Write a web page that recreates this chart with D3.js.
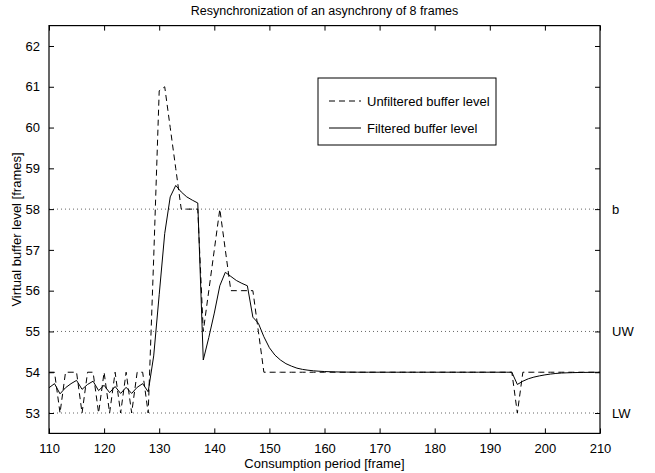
<!DOCTYPE html>
<html><head><meta charset="utf-8">
<script src="https://cdn.jsdelivr.net/npm/d3@7"></script>
<style>body{margin:0;background:#fff}svg text{font-family:"Liberation Sans",Arial,sans-serif}</style>
</head><body><svg id="c" width="655" height="473"></svg>
<script>
const frames = d3.range(110, 211);
const unfilteredTop = [54,54,53,54,54,54,53,54,54,53,54,53,54,53,54,53,54,54,53,56.8,60.9,61,60,59,58,58,58,58,55,56,57,58,57,56,56,56,56,56,55,54];
const filteredTop = [53.62,53.72,53.47,53.62,53.72,53.80,53.58,53.70,53.78,53.55,53.68,53.50,53.65,53.48,53.63,53.48,53.63,53.72,53.52,54.4,55.9,57.4,58.3,58.58,58.42,58.3,58.22,58.15,54.3,54.85,55.45,56.12,56.45,56.35,56.25,56.18,56.12,55.35,55.2,54.87];
const filteredDecay = [54.6,54.42,54.3,54.21,54.15,54.1,54.07,54.05,54.035,54.025,54.017,54.012,54.008,54.005,54.003,54.002,54.001,54,54,54,54,54,54,54,54,54,54,54,54,54,54,54,54,54,54,54,54,54,54,54,54,54,54,54,54];
const unfilteredMid = [54,54,54,54,54,54,54,54,54,54,54,54,54,54,54,54,54,54,54,54,54,54,54,54,54,54,54,54,54,54,54,54,54,54,54,54,54,54,54,54,54,54,54,54,54];
const unfilteredEnd = [53,54,54,54,54,54,54,54,54,54,54,54,54,54,54,54];
const filteredEnd = [53.7,53.78,53.84,53.88,53.91,53.935,53.955,53.97,53.98,53.986,53.99,53.993,53.995,53.997,53.998,53.999];
const unfiltered = unfilteredTop.concat(unfilteredMid, unfilteredEnd);
const filtered = filteredTop.concat(filteredDecay, filteredEnd);
const xTicks = d3.range(110, 211, 10);
const yTicks = d3.range(53, 63, 1);
const thresholds = [{v:58,label:"b"},{v:55,label:"UW"},{v:53,label:"LW"}];
const legendItems = [{label:"Unfiltered buffer level",dash:"6,4"},{label:"Filtered buffer level",dash:null}];

const svg = d3.select("#c");
const L=49, R=600, T=25.6, B=433.4;
const FS=13;
const x = d3.scaleLinear().domain([110,210]).range([L,R]);
const y = d3.scaleLinear().domain([52.5,62.5]).range([B,T]);

svg.selectAll("line.th").data(thresholds).enter().append("line")
  .attr("x1",L).attr("x2",R).attr("y1",d=>y(d.v)).attr("y2",d=>y(d.v))
  .attr("stroke","#666").attr("stroke-width",1).attr("stroke-dasharray","1,3");
svg.selectAll("text.th").data(thresholds).enter().append("text")
  .attr("x",612).attr("y",d=>y(d.v)+4.5).attr("font-size",FS).text(d=>d.label);

const line = d3.line().x((d,i)=>x(frames[i])).y(d=>y(d));
svg.append("path").datum(unfiltered).attr("d",line).attr("fill","none")
  .attr("stroke","#000").attr("stroke-width",1).attr("stroke-dasharray","6,4");
svg.append("path").datum(filtered).attr("d",line).attr("fill","none")
  .attr("stroke","#000").attr("stroke-width",1);

const ax = (g, axis) => { g.call(axis); g.select(".domain").remove(); g.selectAll("text").attr("font-size",FS).attr("font-family","Liberation Sans, Arial, sans-serif").attr("fill","#000"); g.selectAll("line").attr("stroke","#000"); };
svg.append("g").attr("transform",`translate(0,${B})`).call(g=>ax(g,d3.axisBottom(x).tickValues(xTicks).tickSizeInner(-5).tickSizeOuter(0).tickPadding(10)));
svg.append("g").attr("transform",`translate(0,${T})`).call(g=>ax(g,d3.axisTop(x).tickValues(xTicks).tickSizeInner(-5).tickSizeOuter(0).tickFormat("")));
svg.append("g").attr("transform",`translate(${L},0)`).call(g=>ax(g,d3.axisLeft(y).tickValues(yTicks).tickSizeInner(-5).tickSizeOuter(0).tickPadding(9)));
svg.append("g").attr("transform",`translate(${R},0)`).call(g=>ax(g,d3.axisRight(y).tickValues(yTicks).tickSizeInner(-5).tickSizeOuter(0).tickFormat("")));
svg.append("rect").attr("x",L).attr("y",T).attr("width",R-L).attr("height",B-T).attr("fill","none").attr("stroke","#000").attr("stroke-width",1.2);

svg.append("text").attr("x",(L+R)/2).attr("y",15).attr("text-anchor","middle").attr("font-size",12.5).text("Resynchronization of an asynchrony of 8 frames");
svg.append("text").attr("x",(L+R)/2).attr("y",468).attr("text-anchor","middle").attr("font-size",FS).text("Consumption period [frame]");
svg.append("text").attr("transform",`translate(21,${(T+B)/2}) rotate(-90)`).attr("text-anchor","middle").attr("font-size",FS).text("Virtual buffer level [frames]");

const lg = svg.append("g");
lg.append("rect").attr("x",318).attr("y",78).attr("width",178).attr("height",67).attr("fill","#fff").attr("stroke","#000").attr("stroke-width",1);
const li = lg.selectAll("g.li").data(legendItems).enter().append("g").attr("transform",(d,i)=>`translate(0,${101+i*27})`);
li.append("line").attr("x1",329).attr("x2",361).attr("y1",0).attr("y2",0).attr("stroke","#000").attr("stroke-dasharray",d=>d.dash);
li.append("text").attr("x",367).attr("y",4.5).attr("font-size",FS).text(d=>d.label);
</script></body></html>
